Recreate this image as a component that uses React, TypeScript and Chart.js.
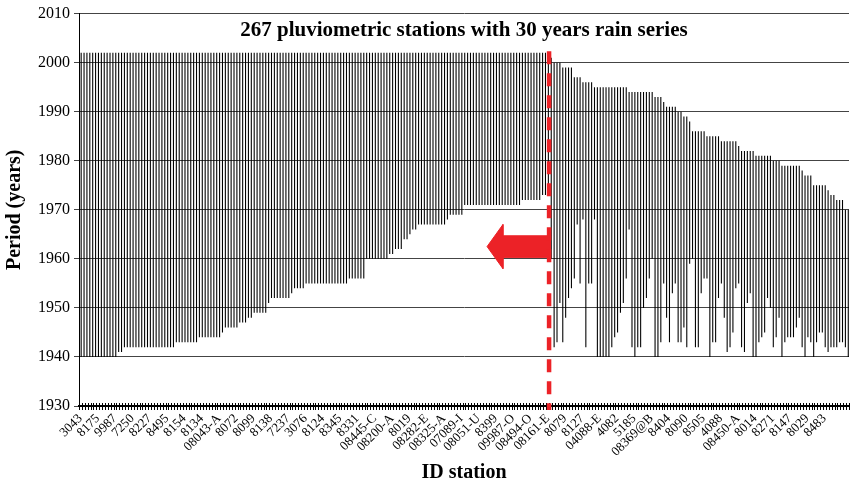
import React, { useEffect, useRef } from 'react';
import { Chart, registerables } from 'chart.js';

Chart.register(...registerables);

// Tick labels shown on the category axis (every 6th station)
const tickLabels = [
  '3043', '8175', '9987', '7250', '8227', '8495', '8154', '8134', '08043-A', '8072',
  '8099', '8138', '7237', '3076', '8124', '8345', '8331', '08445-C', '08200-A', '8019',
  '08282-E', '08325-A', '07089-I', '08051-U', '8399', '09987-O', '08494-O', '08161-E', '8079', '8127',
  '04088-E', '4082', '5185', '08369@B', '8404', '8090', '8505', '4088', '08450-A', '8014',
  '8271', '8147', '8029', '8483',
];
const labelEvery = 6;

// First year of each station's series (267 stations)
const startYears = [
  // group 1: series ending in 2002
  1940, 1940, 1940, 1940, 1940, 1940, 1940, 1940, 1940, 1940, 1940, 1940, 1940,
  1941, 1941,
  1942, 1942, 1942, 1942, 1942, 1942, 1942, 1942, 1942,
  1942, 1942, 1942, 1942, 1942, 1942, 1942, 1942, 1942,
  1943, 1943, 1943, 1943, 1943, 1943, 1943, 1943,
  1944, 1944, 1944, 1944, 1944, 1944, 1944, 1944,
  1945, 1946, 1946, 1946, 1946, 1946, 1947, 1947, 1947, 1948, 1948,
  1949, 1949, 1949, 1949, 1949, 1951, 1952, 1952, 1952, 1952, 1952, 1952, 1952,
  1953, 1954, 1954, 1954, 1954,
  1955, 1955, 1955, 1955, 1955, 1955, 1955, 1955, 1955, 1955, 1955, 1955, 1955, 1955, 1955,
  1956, 1956, 1956, 1956, 1956, 1956,
  1960, 1960, 1960, 1960, 1960, 1960, 1960, 1960,
  1961, 1961, 1962, 1962, 1962, 1964, 1964, 1965, 1966, 1966,
  1967, 1967, 1967, 1967, 1967, 1967, 1967, 1967, 1967, 1967,
  1968, 1969, 1969, 1969, 1969, 1969,
  1971, 1971, 1971, 1971, 1971, 1971, 1971, 1971, 1971, 1971,
  1971, 1971, 1971, 1971, 1971, 1971, 1971, 1971, 1971, 1971,
  1972, 1972, 1972, 1972, 1972, 1972, 1972, 1973, 1973, 1973,
  // group 2: series ending before 2002
  1960, 1942, 1943, 1951, 1943, 1948, 1952, 1954, 1956, 1967,
  1955, 1968, 1942, 1955, 1955, 1968, 1940, 1940, 1940, 1940,
  1940, 1942, 1944, 1945, 1949, 1951, 1956, 1966, 1942, 1940,
  1942, 1942, 1950, 1952, 1956, 1960, 1940, 1940, 1943, 1955,
  1948, 1943, 1953, 1955, 1943, 1943, 1946, 1942, 1959, 1960,
  1942, 1942, 1953, 1956, 1956, 1940, 1943, 1943, 1952, 1955,
  1948, 1941, 1942, 1945, 1954, 1955, 1942, 1941, 1951, 1953,
  1940, 1940, 1943, 1944, 1945, 1952, 1950, 1942, 1944, 1948,
  1940, 1943, 1944, 1944, 1944, 1946, 1948, 1942, 1940, 1944,
  1943, 1940, 1943, 1945, 1945, 1942, 1941, 1942, 1942, 1942,
  1943, 1943, 1942, 1940,
];

// Last year of each station's series (267 stations)
const endYears = [
  // group 1 (163 stations)
  2002, 2002, 2002, 2002, 2002, 2002, 2002, 2002, 2002, 2002,
  2002, 2002, 2002, 2002, 2002, 2002, 2002, 2002, 2002, 2002,
  2002, 2002, 2002, 2002, 2002, 2002, 2002, 2002, 2002, 2002,
  2002, 2002, 2002, 2002, 2002, 2002, 2002, 2002, 2002, 2002,
  2002, 2002, 2002, 2002, 2002, 2002, 2002, 2002, 2002, 2002,
  2002, 2002, 2002, 2002, 2002, 2002, 2002, 2002, 2002, 2002,
  2002, 2002, 2002, 2002, 2002, 2002, 2002, 2002, 2002, 2002,
  2002, 2002, 2002, 2002, 2002, 2002, 2002, 2002, 2002, 2002,
  2002, 2002, 2002, 2002, 2002, 2002, 2002, 2002, 2002, 2002,
  2002, 2002, 2002, 2002, 2002, 2002, 2002, 2002, 2002, 2002,
  2002, 2002, 2002, 2002, 2002, 2002, 2002, 2002, 2002, 2002,
  2002, 2002, 2002, 2002, 2002, 2002, 2002, 2002, 2002, 2002,
  2002, 2002, 2002, 2002, 2002, 2002, 2002, 2002, 2002, 2002,
  2002, 2002, 2002, 2002, 2002, 2002, 2002, 2002, 2002, 2002,
  2002, 2002, 2002, 2002, 2002, 2002, 2002, 2002, 2002, 2002,
  2002, 2002, 2002, 2002, 2002, 2002, 2002, 2002, 2002, 2002,
  2002, 2002, 2002,
  // group 2 (104 stations)
  2001, 2000, 2000, 2000, 1999, 1999, 1999, 1999,
  1997, 1997, 1997, 1996, 1996, 1996, 1996,
  1995, 1995, 1995, 1995, 1995, 1995, 1995, 1995, 1995, 1995, 1995, 1995,
  1994, 1994, 1994, 1994, 1994, 1994, 1994, 1994, 1994,
  1993, 1993, 1993, 1992, 1991, 1991, 1991, 1991, 1990, 1990, 1989, 1989, 1988,
  1986, 1986, 1986, 1986, 1986, 1985, 1985, 1985, 1985, 1985,
  1984, 1984, 1984, 1984, 1984, 1984, 1983, 1982, 1982, 1982, 1982, 1982,
  1981, 1981, 1981, 1981, 1981, 1981, 1980, 1980, 1980,
  1979, 1979, 1979, 1979, 1979, 1979, 1979, 1978, 1977, 1977, 1977,
  1975, 1975, 1975, 1975, 1975, 1974, 1973, 1973, 1972, 1972, 1972, 1970, 1970,
];

// Annotations (in data units: station index / year)
const splitIndex = 162.5;
const splitYears = [2002.3, 1929.2];
const arrowX = [141.0, 146.5, 146.5, 163.0, 163.0, 146.5, 146.5, 141.0];
const arrowY = [1962.5, 1967.0, 1964.7, 1964.7, 1960.3, 1960.3, 1958.0, 1962.5];

const yMin = 1930;
const yMax = 2010;
const yStep = 10;

const titleText = '267 pluviometric stations with 30 years rain series';
const yTitle = 'Period (years)';
const xTitle = 'ID station';

const SERIF = "'Liberation Serif', 'Times New Roman', Times, serif";
const RED = '#ec2227';

const categories = startYears.map((_, i) =>
  i % labelEvery === 0 ? tickLabels[i / labelEvery] ?? '' : ''
);

export default function App() {
  const canvasRef = useRef<HTMLCanvasElement>(null);

  useEffect(() => {
    const canvas = canvasRef.current;
    if (!canvas) return;

    const crossTicks = {
      id: 'crossTicks',
      beforeDatasetsDraw(chart: any) {
        const xs = chart.scales.x2;
        const y = chart.scales.y.getPixelForValue(yMin);
        const ctx = chart.ctx;
        ctx.save();
        ctx.strokeStyle = '#000';
        ctx.lineWidth = 1;
        ctx.beginPath();
        for (let i = 0; i <= startYears.length; i++) {
          const px = Math.round(xs.getPixelForValue(i - 0.5)) + 0.5;
          ctx.moveTo(px, y - 3);
          ctx.lineTo(px, y + 4);
        }
        ctx.stroke();
        ctx.restore();
      },
    };

    const chart = new Chart(canvas, {
      type: 'bar',
      data: {
        labels: categories,
        datasets: [
          {
            type: 'line',
            label: 'split',
            data: splitYears.map((y) => ({ x: splitIndex, y })),
            xAxisID: 'x2',
            borderColor: RED,
            borderWidth: 4.5,
            borderDash: [13, 9],
            pointRadius: 0,
            fill: false,
            clip: false,
            order: 0,
          } as any,
          {
            type: 'line',
            label: 'arrow',
            data: arrowX.map((x, i) => ({ x, y: arrowY[i] })),
            xAxisID: 'x2',
            borderColor: RED,
            backgroundColor: RED,
            borderWidth: 1,
            pointRadius: 0,
            fill: 'shape',
            tension: 0,
            order: 1,
          } as any,
          {
            type: 'bar',
            label: 'period',
            data: startYears.map((s, i) => [s, endYears[i]]),
            xAxisID: 'x',
            backgroundColor: '#000',
            borderWidth: 0,
            barPercentage: 0.75,
            categoryPercentage: 1,
            order: 2,
          } as any,
        ],
      },
      options: {
        animation: false,
        responsive: true,
        maintainAspectRatio: false,
        layout: { padding: { left: 0, right: 1, top: 11, bottom: 0 } },
        plugins: {
          legend: { display: false },
          tooltip: { enabled: false },
          title: { display: false },
        },
        scales: {
          x: {
            type: 'category',
            offset: true,
            grid: { display: false, drawOnChartArea: false, drawTicks: false },
            border: { display: true, color: '#000', width: 2 },
            ticks: {
              autoSkip: false,
              minRotation: 45,
              maxRotation: 45,
              padding: 5,
              color: '#000',
              font: { family: SERIF, size: 13 },
            },
            title: {
              display: true,
              text: xTitle,
              color: '#000',
              font: { family: SERIF, size: 20, weight: 'bold' },
              padding: { top: 3, bottom: 3 },
            },
            afterFit(s: any) {
              s.height = 82;
              s.paddingLeft = 0;
              s.paddingRight = 0;
            },
          },
          x2: {
            type: 'linear',
            display: false,
            offset: false,
            grid: { offset: false },
            min: -0.5,
            max: startYears.length - 0.5,
          },
          y: {
            min: yMin,
            max: yMax,
            ticks: {
              stepSize: yStep,
              color: '#000',
              padding: 4,
              font: { family: SERIF, size: 16 },
              callback: (v: any) => String(v),
            },
            grid: { color: '#444', lineWidth: 1, drawTicks: true, tickLength: 5 },
            border: { display: true, color: '#000', width: 1 },
            title: {
              display: true,
              text: yTitle,
              color: '#000',
              font: { family: SERIF, size: 20, weight: 'bold' },
              padding: { top: 3, bottom: 3 },
            },
            afterFit(s: any) {
              s.width = 79;
            },
          },
        },
      } as any,
      plugins: [crossTicks],
    });

    return () => chart.destroy();
  }, []);

  return (
    <div style={{ position: 'fixed', left: 0, top: 0, width: 850, height: 488, background: '#fff' }}>
      <canvas ref={canvasRef} />
      <div
        style={{
          position: 'absolute',
          left: 79,
          width: 770,
          top: 19,
          textAlign: 'center',
          fontFamily: SERIF,
          fontWeight: 'bold',
          fontSize: 21,
          lineHeight: '21px',
          color: '#000',
          pointerEvents: 'none',
        }}
      >
        {titleText}
      </div>
    </div>
  );
}
